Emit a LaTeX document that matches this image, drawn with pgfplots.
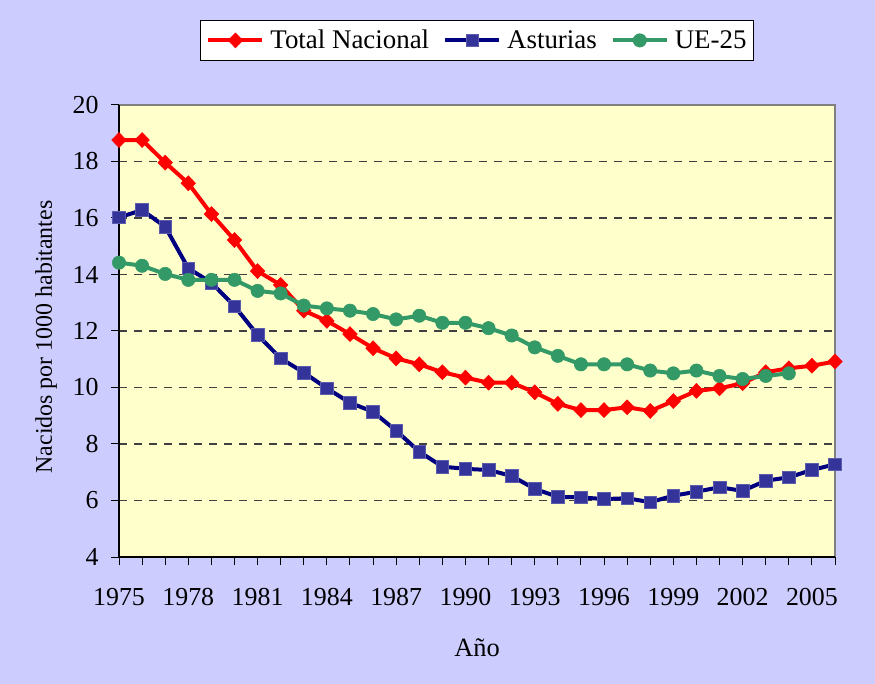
\documentclass[border=0pt]{standalone}
\usepackage{fontspec}
\setmainfont{Liberation Serif}
\usepackage{pgfplots}
\pgfplotsset{compat=1.18}
\usepackage{pgfplotstable}
\definecolor{bgcol}{HTML}{CCCCFF}
\definecolor{plotbg}{HTML}{FFFFCC}
\definecolor{tnred}{HTML}{FF0000}
\definecolor{astline}{HTML}{000080}
\definecolor{astmark}{HTML}{333399}
\definecolor{uegreen}{HTML}{339966}
\definecolor{gridcol}{HTML}{404040}
\definecolor{framegray}{HTML}{808080}

\pgfplotstableread{
year val
1975 18.76
1976 18.76
1977 17.96
1978 17.23
1979 16.14
1980 15.22
1981 14.12
1982 13.63
1983 12.72
1984 12.36
1985 11.89
1986 11.39
1987 11.03
1988 10.82
1989 10.54
1990 10.35
1991 10.17
1992 10.17
1993 9.83
1994 9.42
1995 9.20
1996 9.20
1997 9.30
1998 9.17
1999 9.52
2000 9.88
2001 9.97
2002 10.15
2003 10.54
2004 10.68
2005 10.77
2006 10.92
}\totalnac

\pgfplotstableread{
year val
1975 16.02
1976 16.28
1977 15.69
1978 14.22
1979 13.71
1980 12.88
1981 11.86
1982 11.03
1983 10.53
1984 9.97
1985 9.46
1986 9.14
1987 8.47
1988 7.73
1989 7.20
1990 7.12
1991 7.08
1992 6.87
1993 6.41
1994 6.13
1995 6.11
1996 6.05
1997 6.08
1998 5.94
1999 6.17
2000 6.31
2001 6.47
2002 6.34
2003 6.70
2004 6.82
2005 7.08
2006 7.28
}\asturias

\pgfplotstableread{
year val
1975 14.42
1976 14.31
1977 14.02
1978 13.81
1979 13.81
1980 13.81
1981 13.42
1982 13.33
1983 12.90
1984 12.80
1985 12.72
1986 12.60
1987 12.41
1988 12.54
1989 12.29
1990 12.29
1991 12.10
1992 11.84
1993 11.42
1994 11.12
1995 10.82
1996 10.82
1997 10.82
1998 10.60
1999 10.50
2000 10.60
2001 10.41
2002 10.30
2003 10.41
2004 10.50
}\uetf

\begin{document}
\begin{tikzpicture}
\useasboundingbox (0,0) rectangle (875bp,684bp);
\fill[bgcol] (0,0) rectangle (875bp,684bp);
\begin{axis}[
  at={(119bp,127bp)}, anchor=south west,
  scale only axis,
  width=716bp, height=452bp,
  xmin=1975, xmax=2006,
  ymin=4, ymax=20,
  xtick={1975,1978,...,2005},
  minor xtick={1975,1976,...,2006},
  ytick={4,6,...,20},
  tick align=outside,
  major tick length=8bp,
  minor tick length=8bp,
  tick style={black, line width=1bp},
  xtick pos=bottom, ytick pos=left,
  ymajorgrids,
  major grid style={gridcol, line width=1.2bp, dash pattern=on 8bp off 7bp},
  axis background/.style={fill=plotbg},
  axis line style={black, line width=1.5bp},
  /pgf/number format/assume math mode=true,
  xticklabel={\pgfmathprintnumber[1000 sep={}]{\tick}},
  ticklabel style={font=\fontsize{26}{30}\selectfont},
  xticklabel style={yshift=-20bp},
  yticklabel style={xshift=-9bp},
  xlabel={Año},
  ylabel={Nacidos por 1000 habitantes},
  every axis x label/.style={at={(rel axis cs:0.5,0)}, anchor=center, yshift=-91bp, font=\fontsize{26.5}{30}\selectfont},
  every axis y label/.style={at={(rel axis cs:0,0.5)}, anchor=center, rotate=90, yshift=73bp, xshift=-6bp, font=\fontsize{24}{28}\selectfont},
  legend columns=3,
  legend style={at={(0.5,1)}, anchor=south, yshift=44bp, draw=black, line width=1bp, fill=white,
    font=\fontsize{27}{30}\selectfont, inner xsep=6bp, inner ysep=9bp,
    nodes={inner sep=1bp},
    /tikz/every odd column/.append style={column sep=5bp},
    /tikz/every even column/.append style={column sep=13bp}},
  legend cell align=left,
  legend image code/.code={\draw[mark repeat=2,mark phase=2,#1] plot coordinates {(0bp,0bp) (27bp,0bp) (54bp,0bp)};},
  clip=false,
]
\addplot[tnred, line width=4bp, mark=diamond*, mark size=7.5bp, mark options={solid, fill=tnred, draw=tnred, line width=0.5bp, xscale=1.3}] table[x=year,y=val] {\totalnac};
\addlegendentry{Total Nacional}
\addplot[astline, line width=4bp, mark=square*, mark size=6.3bp, mark options={solid, fill=astmark, draw=astmark!80!white, line width=0.6bp}] table[x=year,y=val] {\asturias};
\addlegendentry{Asturias}
\addplot[uegreen, line width=4bp, mark=*, mark size=6.7bp, mark options={solid, fill=uegreen, draw=uegreen, line width=0.5bp}] table[x=year,y=val] {\uetf};
\addlegendentry{UE-25}
\draw[framegray, line width=2.5bp] (rel axis cs:0,1) -- (rel axis cs:1,1) -- (rel axis cs:1,0);
\draw[black, line width=1.5bp] (rel axis cs:0,1) -- (rel axis cs:0,0) -- (rel axis cs:1,0);
\end{axis}
\end{tikzpicture}
\end{document}
